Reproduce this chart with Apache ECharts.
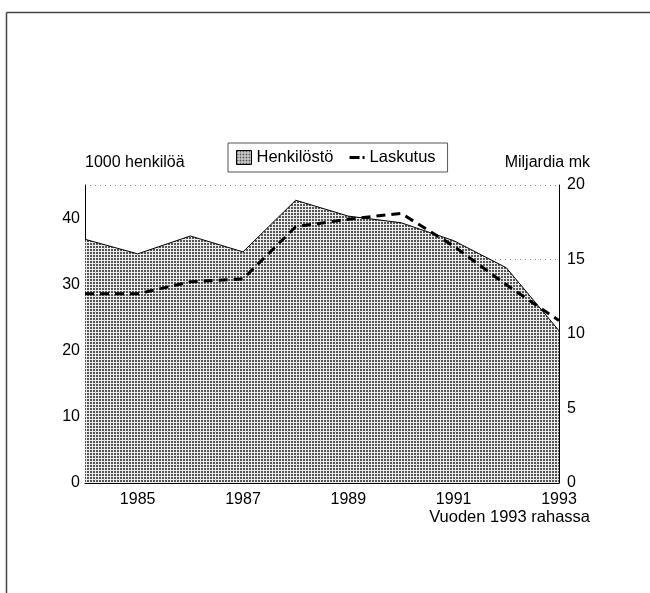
<!DOCTYPE html>
<html>
<head>
<meta charset="utf-8">
<script src="https://cdn.jsdelivr.net/npm/echarts@6/dist/echarts.min.js"></script>
<style>
  html, body { margin: 0; padding: 0; background: #fff; }
  #chart { width: 650px; height: 593px; }
</style>
</head>
<body>
<div id="chart"></div>
<script>
// vuodet ja sarjat
const years = [1984, 1985, 1986, 1987, 1988, 1989, 1990, 1991, 1992, 1993]
const henkilosto = [36.8, 34.6, 37.3, 34.9, 42.7, 40.3, 39.3, 36.6, 32.5, 23.0]
const laskutus = [12.7, 12.7, 13.5, 13.7, 17.2, 17.7, 18.1, 15.9, 13.3, 10.9]
const xLabels = [1985, 1987, 1989, 1991, 1993]

// pistekuvio alueelle
const makePattern = () => {
  const c = document.createElement('canvas')
  c.width = 3
  c.height = 3
  const ctx = c.getContext('2d')
  ctx.fillStyle = '#ececec'
  ctx.fillRect(0, 0, 3, 3)
  ctx.fillStyle = '#555'
  ctx.fillRect(0, 0, 2, 2)
  return { image: c, repeat: 'repeat' }
}
const pattern = makePattern()

const font = '"Liberation Sans", Arial, sans-serif'
const chart = echarts.init(document.getElementById('chart'))

const option = {
  animation: false,
  backgroundColor: '#fff',
  textStyle: { fontFamily: font },
  grid: { left: 85, right: 91, top: 185, bottom: 110 },
  legend: {
    top: 143,
    left: 228,
    padding: [6, 12, 6, 8],
    itemGap: 16,
    borderColor: '#555',
    borderWidth: 1,
    itemWidth: 15,
    itemHeight: 14,
    textStyle: { fontSize: 16.5, color: '#000', fontFamily: font },
    data: [
      { name: 'Henkilöstö', icon: 'rect', itemStyle: { color: pattern, borderColor: '#000', borderWidth: 1 } },
      { name: 'Laskutus', icon: 'path://M0,6 L10,6 L10,9 L0,9 Z M13,6 L15,6 L15,9 L13,9 Z', itemStyle: { color: '#000' } }
    ]
  },
  xAxis: {
    type: 'value',
    min: 1984,
    max: 1993,
    interval: 1,
    axisLine: { lineStyle: { color: '#000', width: 1 } },
    axisTick: { show: false },
    splitLine: { show: false },
    axisLabel: {
      color: '#000',
      fontSize: 16,
      margin: 9,
      formatter: v => (xLabels.indexOf(v) >= 0 ? String(v) : '')
    }
  },
  yAxis: [
    {
      type: 'value',
      min: 0,
      max: 45,
      interval: 10,
      position: 'left',
      axisLine: { show: true, lineStyle: { color: '#000', width: 1 } },
      axisTick: { show: false },
      splitLine: { show: false },
      axisLabel: {
        color: '#000',
        fontSize: 16,
        margin: 5,
        showMaxLabel: false,
        formatter: v => (v % 10 === 0 ? String(v) : '')
      }
    },
    {
      type: 'value',
      min: 0,
      max: 20,
      interval: 5,
      position: 'right',
      axisLine: { show: true, lineStyle: { color: '#000', width: 1 } },
      axisTick: { show: false },
      splitLine: { show: true, lineStyle: { color: '#888', type: [1, 4], width: 1 } },
      axisLabel: { color: '#000', fontSize: 16, margin: 8 }
    }
  ],
  series: [
    {
      name: 'Henkilöstö',
      type: 'line',
      yAxisIndex: 0,
      data: years.map((y, i) => [y, henkilosto[i]]),
      showSymbol: false,
      lineStyle: { color: '#000', width: 1 },
      itemStyle: { color: '#000' },
      areaStyle: { color: pattern, opacity: 1 },
      z: 2
    },
    {
      name: 'Laskutus',
      type: 'line',
      yAxisIndex: 1,
      data: years.map((y, i) => [y, laskutus[i]]),
      showSymbol: false,
      lineStyle: { color: '#000', width: 3, type: [9, 6] },
      itemStyle: { color: '#000' },
      z: 3
    }
  ],
  graphic: [
    { type: 'line', shape: { x1: 6.5, y1: 12.5, x2: 650, y2: 12.5 }, style: { stroke: '#444', lineWidth: 1.5 } },
    { type: 'line', shape: { x1: 6.5, y1: 12.5, x2: 6.5, y2: 593 }, style: { stroke: '#444', lineWidth: 1.5 } },
    { type: 'text', left: 85, top: 155, style: { text: '1000 henkilöä', fontSize: 16, fontFamily: font, fill: '#000' } },
    { type: 'text', right: 60, top: 155, style: { text: 'Miljardia mk', fontSize: 16, fontFamily: font, fill: '#000' } },
    { type: 'text', right: 60, top: 509, style: { text: 'Vuoden 1993 rahassa', fontSize: 16.5, fontFamily: font, fill: '#000' } }
  ]
}

chart.setOption(option)
</script>
</body>
</html>
